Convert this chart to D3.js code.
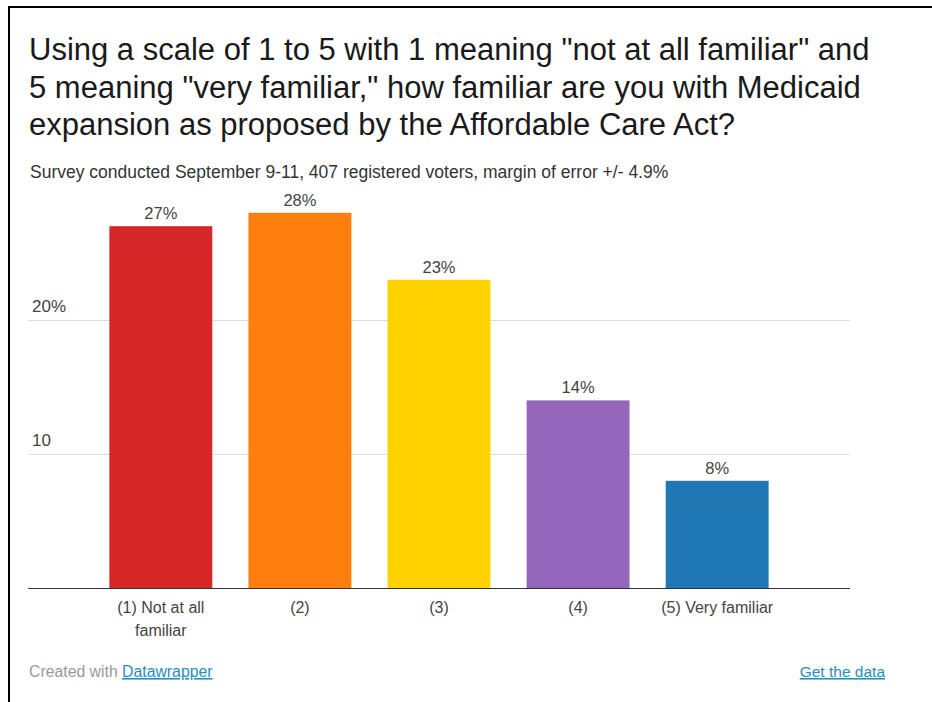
<!DOCTYPE html>
<html>
<head>
<meta charset="utf-8">
<script src="https://cdn.jsdelivr.net/npm/d3@7/dist/d3.min.js"></script>
<style>
  html, body { margin: 0; padding: 0; background: #fff; }
  svg { display: block; font-family: "Liberation Sans", Arial, sans-serif; }
</style>
</head>
<body>
<svg id="chart" width="932" height="702"></svg>
<script>
const categories = ["(1) Not at all familiar", "(2)", "(3)", "(4)", "(5) Very familiar"];
const values = [27, 28, 23, 14, 8];
const colors = ["#d62728", "#ff7f0e", "#ffd200", "#9467bd", "#1f77b4"];
const yTicks = [10, 20];
const titleLines = [
  "Using a scale of 1 to 5 with 1 meaning \"not at all familiar\" and",
  "5 meaning \"very familiar,\" how familiar are you with Medicaid",
  "expansion as proposed by the Affordable Care Act?"
];
const subtitle = "Survey conducted September 9-11, 407 registered voters, margin of error +/- 4.9%";

const svg = d3.select("#chart");

// outer frame
svg.append("line").attr("x1", 9).attr("x2", 932).attr("y1", 7).attr("y2", 7)
  .attr("stroke", "#000").attr("stroke-width", 2);
svg.append("line").attr("x1", 9).attr("x2", 9).attr("y1", 6).attr("y2", 702)
  .attr("stroke", "#000").attr("stroke-width", 2);

// title
svg.append("g").selectAll("text").data(titleLines).join("text")
  .attr("x", 29).attr("y", (d, i) => 60 + i * 37.5)
  .attr("font-size", 31).attr("fill", "#1a1a1a").text(d => d);

svg.append("text").attr("x", 30).attr("y", 178)
  .attr("font-size", 17.5).attr("fill", "#333").text(subtitle);

const x0 = 28, x1 = 850;
const x = d3.scaleBand().domain(categories).range([x0, x1])
  .paddingInner(0.26).paddingOuter(0.585);
const y = d3.scaleLinear().domain([0, 10]).range([588, 454]);

// gridlines + tick labels
const gy = svg.append("g");
gy.selectAll("line").data(yTicks).join("line")
  .attr("x1", x0).attr("x2", x1)
  .attr("y1", d => y(d) + 0.5).attr("y2", d => y(d) + 0.5)
  .attr("stroke", "#dcdcdc").attr("stroke-width", 1);
gy.selectAll("text").data(yTicks).join("text")
  .attr("x", 32).attr("y", d => y(d) - 8)
  .attr("font-size", 17).attr("fill", "#444")
  .text(d => d === 20 ? d + "%" : d);

// bars
svg.append("g").selectAll("rect").data(values).join("rect")
  .attr("x", (d, i) => x(categories[i]))
  .attr("width", x.bandwidth())
  .attr("y", d => y(d))
  .attr("height", d => y(0) - y(d))
  .attr("fill", (d, i) => colors[i]);

// value labels
svg.append("g").selectAll("text").data(values).join("text")
  .attr("x", (d, i) => x(categories[i]) + x.bandwidth() / 2)
  .attr("y", d => y(d) - 7)
  .attr("text-anchor", "middle").attr("font-size", 16.5).attr("fill", "#444")
  .text(d => d + "%");

// baseline
svg.append("line").attr("x1", x0).attr("x2", x1)
  .attr("y1", y(0) + 0.5).attr("y2", y(0) + 0.5)
  .attr("stroke", "#333").attr("stroke-width", 1.2);

// category labels (wrapped)
const labelLines = {"(1) Not at all familiar": ["(1) Not at all", "familiar"]};
const gx = svg.append("g");
categories.forEach(c => {
  const lines = labelLines[c] || [c];
  const t = gx.append("text").attr("text-anchor", "middle")
    .attr("font-size", 16).attr("fill", "#444");
  lines.forEach((l, i) => {
    t.append("tspan").attr("x", x(c) + x.bandwidth() / 2)
      .attr("y", 613 + i * 23).text(l);
  });
});

// footer
const f = svg.append("text").attr("x", 29).attr("y", 677)
  .attr("font-size", 15.8).attr("fill", "#999");
f.append("tspan").text("Created with ");
f.append("tspan").attr("fill", "#1f8fbf").attr("text-decoration", "underline").text("Datawrapper");
svg.append("text").attr("x", 885).attr("y", 677).attr("text-anchor", "end")
  .attr("font-size", 15.5).attr("fill", "#1f8fbf").attr("text-decoration", "underline")
  .text("Get the data");
</script>
</body>
</html>
